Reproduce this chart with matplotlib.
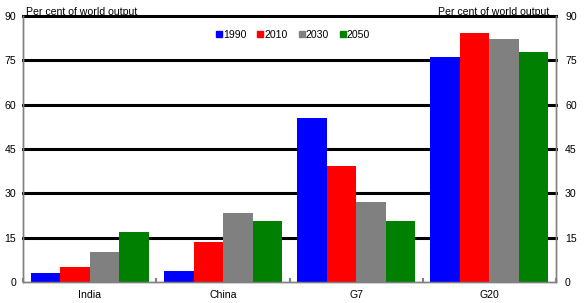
import matplotlib.pyplot as plt
import numpy as np
from matplotlib.lines import Line2D

plt.rcParams['font.family'] = ['Liberation Sans', 'DejaVu Sans']

# data
gruppi = ['India', 'China', 'G7', 'G20']
anni = ['1990', '2010', '2030', '2050']
v1990 = [3.2, 3.7, 55.6, 76.2]
v2010 = [5.1, 13.5, 39.3, 84.3]
v2030 = [10.2, 23.4, 27.1, 82.3]
v2050 = [16.9, 20.7, 20.7, 77.9]
colori = ['#0000ff', '#ff0000', '#808080', '#008000']
yticks = [0, 15, 30, 45, 60, 75, 90]

serie = [v1990, v2010, v2030, v2050]
fs = 7.6

fig = plt.figure(figsize=(5.85, 3.03), dpi=100)
ax = fig.add_axes([23.3/585, 21/303, (556-23.3)/585, (282-16)/303])

x = np.arange(len(gruppi)) + 0.5
w = 0.2214
for i, (s, c) in enumerate(zip(serie, colori)):
    ax.bar(x + (i - 1.5)*w, s, width=w, color=c, zorder=3)

# griglia nera spessa
for t in yticks[1:]:
    ax.axhline(t, color='black', lw=2.2, zorder=1, clip_on=False)

ax.set_xlim(0, 4)
ax.set_ylim(0, 90)
ax.set_yticks(yticks)
ax.tick_params(axis='y', length=0, labelsize=fs, pad=5)
ax.set_xticks(x)
ax.set_xticklabels(gruppi)
ax.set_xticks([0, 1, 2, 3, 4], minor=True)
ax.tick_params(axis='x', which='major', length=0, labelsize=fs, pad=6)
ax.tick_params(axis='x', which='minor', direction='in', length=3, width=1.5, color='#808080')

ax2 = ax.twinx()
ax2.set_ylim(0, 90)
ax2.set_yticks(yticks)
ax2.tick_params(axis='y', length=0, labelsize=fs, pad=6.5)

for a in (ax, ax2):
    a.spines['top'].set_visible(False)
    for sp in ('left', 'right', 'bottom'):
        a.spines[sp].set_color('#808080')
        a.spines[sp].set_linewidth(1)

fig.text(26/585, 1 - 15/303, 'Per cent of world output', fontsize=fs, ha='left', va='baseline')
fig.text(549/585, 1 - 15/303, 'Per cent of world output', fontsize=fs, ha='right', va='baseline')

handles = [Line2D([], [], marker='s', linestyle='none', color=c, markersize=4.3) for c in colori]
ax.legend(handles, anni, ncol=4, frameon=False, fontsize=fs, handlelength=0.6,
          handletextpad=0.1, columnspacing=1.0, loc='center',
          bbox_to_anchor=(293/585, 1 - 35/303), bbox_transform=fig.transFigure)

fig.savefig('out.png', dpi=100)
